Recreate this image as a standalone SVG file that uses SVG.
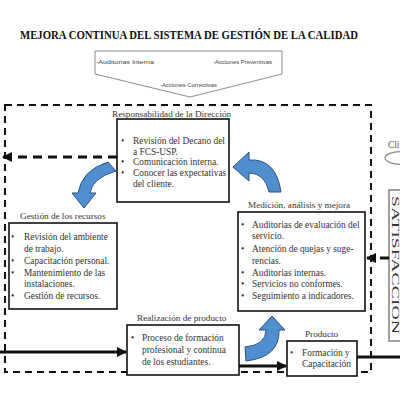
<svg xmlns="http://www.w3.org/2000/svg" width="400" height="400" viewBox="0 0 400 400">
  <style>
    .t { font-family: "Liberation Serif", "Times New Roman", serif; font-size: 9.4px; fill: #333; }
    .lbl { font-family: "Liberation Serif", "Times New Roman", serif; font-size: 9.2px; fill: #333; }
    .sm { font-family: "Liberation Sans", Arial, sans-serif; font-size: 6px; fill: #444; }
    .box { fill: #fff; stroke: #111; stroke-width: 1.6; }
    .blue { fill: #4f8fd0; stroke: #2c4f7c; stroke-width: 1; }
    .dash { fill: none; stroke: #111; stroke-width: 2; stroke-dasharray: 7 5; }
    .dashArrow { fill: none; stroke: #111; stroke-width: 3; stroke-dasharray: 9 6; }
    .solid { fill: none; stroke: #111; stroke-width: 3; }
  </style>
  <defs>
    <marker id="ah" viewBox="0 0 10 10" refX="9" refY="5" markerWidth="3.5" markerHeight="3.5" orient="auto" markerUnits="strokeWidth">
      <path d="M0,0 L10,5 L0,10 Z" fill="#111"/>
    </marker>
  </defs>
  <rect width="400" height="400" fill="#fff"/>

  <text x="189" y="39" text-anchor="middle" font-family="'Liberation Serif', 'Times New Roman', serif" font-weight="bold" font-size="12" fill="#111" textLength="338" lengthAdjust="spacingAndGlyphs">MEJORA CONTINUA DEL SISTEMA DE GESTIÓN DE LA CALIDAD</text>

  <g id="mejora">
    <path d="M95,51 L282,51 L282,74 L190,97 L95,74 Z" fill="#fff" stroke="#8c8c8c" stroke-width="1"/>
    <text class="sm" x="96" y="64" textLength="58" lengthAdjust="spacingAndGlyphs">-Auditorias Interna</text>
    <text class="sm" x="213" y="64" textLength="59" lengthAdjust="spacingAndGlyphs">-Acciones Preventivas</text>
    <text class="sm" x="160" y="87" textLength="57" lengthAdjust="spacingAndGlyphs">-Acciones Correctivas</text>
  </g>

  <g id="sistema">
    <path class="dash" d="M5,105 L371,105 L371,372 L5,372 Z"/>
  </g>

  <g id="clientes-derecha">
    <text x="388" y="148" font-family="'Liberation Serif', serif" font-size="9.4" fill="#555">Cli</text>
    <ellipse cx="402" cy="158" rx="17" ry="6.5" fill="none" stroke="#888" stroke-width="1.2"/>
    <rect x="389" y="190" width="30" height="151" fill="#fff" stroke="#888" stroke-width="1.6"/>
    <text x="391.5" y="196" transform="rotate(90 391.5 196)" font-family="'Liberation Serif', serif" font-size="11" fill="#333" textLength="138" lengthAdjust="spacingAndGlyphs">SATISFACCION</text>
  </g>

  <g id="connectors">
    <line class="dashArrow" x1="117" y1="157" x2="3" y2="157" marker-end="url(#ah)"/>
    <line class="dashArrow" x1="389" y1="258" x2="367" y2="258" marker-end="url(#ah)"/>
    <line class="solid" x1="0" y1="352" x2="126" y2="352" marker-end="url(#ah)"/>
    <line class="solid" x1="239" y1="366" x2="286" y2="366" marker-end="url(#ah)"/>
    <line class="solid" x1="357" y1="357" x2="400" y2="357"/>
    <path class="blue" d="M108,162 Q82,170 78,193 L72,193 L84,208 L96,193 L90,193 Q92,178 116,171 Z"/>
    <path class="blue" d="M233,167 L249,152 L249,160 Q276,158 281,192 L269,192 Q265,173 249,173 L249,181 Z"/>
    <path class="blue" d="M272,316 L285,330 L279,330 Q280,357 246,361 L245,347 Q266,345 266,330 L259,330 Z"/>
  </g>

  <g id="responsabilidad">
    <text class="lbl" x="112" y="117">Responsabilidad de la Dirección</text>
    <rect class="box" x="117" y="119" width="112" height="83"/>
    <g class="t">
      <text x="121" y="144">•</text><text x="133" y="144">Revisión del Decano del</text>
      <text x="133" y="155">a FCS-USP.</text>
      <text x="121" y="165">•</text><text x="133" y="165">Comunicación interna.</text>
      <text x="121" y="175.5">•</text><text x="133" y="175.5">Conocer las expectativas</text>
      <text x="133" y="186.5">del cliente.</text>
    </g>
  </g>

  <g id="recursos">
    <text class="lbl" x="20" y="219">Gestión de los recursos</text>
    <rect class="box" x="9" y="223" width="108" height="86"/>
    <g class="t">
      <text x="11" y="240">•</text><text x="24" y="240">Revisión del ambiente</text>
      <text x="24" y="251.5">de trabajo.</text>
      <text x="11" y="264">•</text><text x="24" y="264">Capacitación personal.</text>
      <text x="11" y="275.5">•</text><text x="24" y="275.5">Mantenimiento de las</text>
      <text x="24" y="286.5">instalaciones.</text>
      <text x="11" y="299">•</text><text x="24" y="299">Gestión de recursos.</text>
    </g>
  </g>

  <g id="medicion">
    <text class="lbl" x="248" y="208">Medición, análisis y mejora</text>
    <rect class="box" x="238" y="212" width="127" height="99"/>
    <g class="t">
      <text x="241" y="228">•</text><text x="252" y="228">Auditorias de evaluación del</text>
      <text x="252" y="239">servicio.</text>
      <text x="241" y="252">•</text><text x="252" y="252">Atención de quejas y suge-</text>
      <text x="252" y="263.5">rencias.</text>
      <text x="241" y="275.5">•</text><text x="252" y="275.5">Auditorias internas.</text>
      <text x="241" y="287">•</text><text x="252" y="287">Servicios no conformes.</text>
      <text x="241" y="299">•</text><text x="252" y="299">Seguimiento a indicadores.</text>
    </g>
  </g>

  <g id="realizacion">
    <text class="lbl" x="137" y="321">Realización de producto</text>
    <rect class="box" x="127" y="325" width="112" height="50"/>
    <g class="t">
      <text x="131" y="341">•</text><text x="142" y="341">Proceso de formación</text>
      <text x="142" y="353">profesional y continua</text>
      <text x="142" y="365">de los estudiantes.</text>
    </g>
  </g>

  <g id="producto">
    <text class="lbl" x="305" y="337">Producto</text>
    <rect class="box" x="287" y="341" width="70" height="35"/>
    <g class="t">
      <text x="290" y="356">•</text><text x="302" y="356">Formación y</text>
      <text x="302" y="367">Capacitación</text>
    </g>
  </g>
</svg>
